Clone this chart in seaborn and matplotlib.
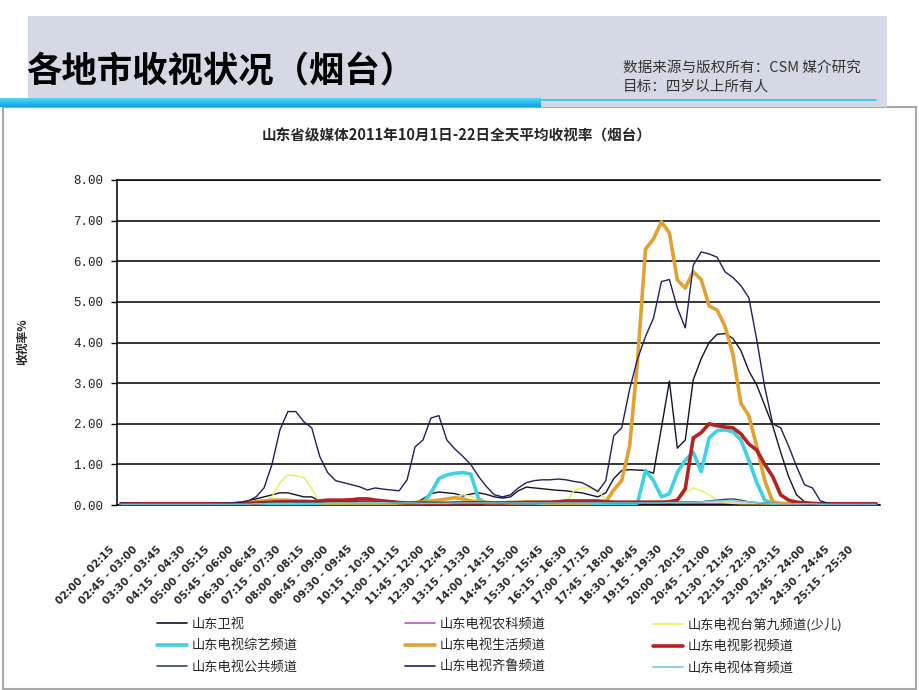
import numpy as np
import pandas as pd
import matplotlib
matplotlib.use("Agg")
import matplotlib.pyplot as plt
import matplotlib.transforms as mtransforms
from matplotlib.patches import Rectangle
from matplotlib.lines import Line2D
import seaborn as sns

# =========================
# Data (96 quarter-hour slots, 02:00 - 25:45)
# =========================
weishi = [0.04, 0.03, 0.03, 0.03, 0.03, 0.03, 0.03, 0.03,
          0.03, 0.03, 0.03, 0.03, 0.03, 0.04, 0.05, 0.07,
          0.10, 0.15, 0.20, 0.25, 0.30, 0.30, 0.25, 0.20,
          0.20, 0.10, 0.06, 0.06, 0.07, 0.07, 0.08, 0.08,
          0.08, 0.07, 0.06, 0.06, 0.05, 0.05, 0.15, 0.28,
          0.32, 0.30, 0.28, 0.22, 0.27, 0.30, 0.26, 0.20,
          0.17, 0.20, 0.35, 0.44, 0.42, 0.40, 0.38, 0.36,
          0.35, 0.32, 0.30, 0.25, 0.20, 0.30, 0.65, 0.85,
          0.87, 0.86, 0.85, 0.78, 1.90, 3.05, 1.40, 1.60,
          3.08, 3.60, 4.00, 4.20, 4.22, 4.10, 3.80, 3.30,
          2.95, 2.45, 1.95, 1.30, 0.70, 0.25, 0.08, 0.05,
          0.04, 0.03, 0.03, 0.03, 0.03, 0.03, 0.03, 0.03]

nongke = [0.02, 0.02, 0.02, 0.02, 0.02, 0.02, 0.02, 0.02,
          0.02, 0.02, 0.02, 0.02, 0.02, 0.02, 0.03, 0.03,
          0.04, 0.05, 0.06, 0.06, 0.07, 0.07, 0.08, 0.08,
          0.09, 0.10, 0.11, 0.12, 0.12, 0.12, 0.12, 0.11,
          0.10, 0.10, 0.09, 0.08, 0.06, 0.05, 0.04, 0.04,
          0.04, 0.04, 0.04, 0.04, 0.04, 0.04, 0.04, 0.04,
          0.04, 0.04, 0.04, 0.04, 0.04, 0.04, 0.04, 0.04,
          0.04, 0.04, 0.04, 0.04, 0.04, 0.04, 0.04, 0.04,
          0.04, 0.04, 0.04, 0.04, 0.04, 0.04, 0.04, 0.04,
          0.04, 0.04, 0.04, 0.04, 0.04, 0.04, 0.04, 0.04,
          0.04, 0.03, 0.03, 0.03, 0.03, 0.03, 0.03, 0.03,
          0.02, 0.02, 0.02, 0.02, 0.02, 0.02, 0.02, 0.02]

jiu = [0.02, 0.02, 0.02, 0.02, 0.02, 0.02, 0.02, 0.02,
       0.02, 0.02, 0.02, 0.02, 0.02, 0.02, 0.03, 0.03,
       0.03, 0.04, 0.05, 0.20, 0.55, 0.74, 0.72, 0.68,
       0.40, 0.05, 0.03, 0.03, 0.03, 0.03, 0.03, 0.03,
       0.03, 0.03, 0.03, 0.03, 0.03, 0.03, 0.04, 0.06,
       0.10, 0.15, 0.20, 0.25, 0.22, 0.15, 0.10, 0.06,
       0.05, 0.05, 0.05, 0.05, 0.05, 0.05, 0.05, 0.06,
       0.05, 0.35, 0.42, 0.42, 0.38, 0.10, 0.05, 0.05,
       0.05, 0.05, 0.05, 0.05, 0.05, 0.06, 0.10, 0.30,
       0.42, 0.35, 0.25, 0.12, 0.06, 0.04, 0.03, 0.03,
       0.03, 0.03, 0.03, 0.03, 0.03, 0.03, 0.03, 0.03,
       0.03, 0.03, 0.03, 0.03, 0.03, 0.03, 0.03, 0.03]

zongyi = [0.02, 0.02, 0.02, 0.02, 0.02, 0.02, 0.02, 0.02,
          0.02, 0.02, 0.02, 0.02, 0.02, 0.02, 0.02, 0.02,
          0.02, 0.02, 0.03, 0.03, 0.04, 0.04, 0.04, 0.03,
          0.03, 0.03, 0.03, 0.03, 0.03, 0.03, 0.03, 0.03,
          0.03, 0.03, 0.03, 0.03, 0.03, 0.03, 0.05, 0.30,
          0.65, 0.74, 0.78, 0.80, 0.76, 0.15, 0.04, 0.03,
          0.03, 0.03, 0.03, 0.03, 0.03, 0.03, 0.03, 0.03,
          0.03, 0.03, 0.03, 0.03, 0.03, 0.03, 0.03, 0.04,
          0.03, 0.05, 0.85, 0.60, 0.20, 0.28, 0.80, 1.10,
          1.30, 0.82, 1.65, 1.83, 1.85, 1.80, 1.60, 1.10,
          0.55, 0.12, 0.04, 0.03, 0.03, 0.03, 0.03, 0.03,
          0.03, 0.03, 0.03, 0.03, 0.03, 0.03, 0.03, 0.03]

shenghuo = [0.03, 0.03, 0.03, 0.02, 0.02, 0.02, 0.02, 0.02,
            0.02, 0.02, 0.02, 0.02, 0.02, 0.03, 0.03, 0.05,
            0.06, 0.08, 0.10, 0.12, 0.12, 0.12, 0.10, 0.10,
            0.08, 0.06, 0.05, 0.05, 0.05, 0.05, 0.05, 0.05,
            0.05, 0.05, 0.05, 0.05, 0.05, 0.06, 0.08, 0.10,
            0.12, 0.15, 0.18, 0.15, 0.10, 0.08, 0.06, 0.05,
            0.05, 0.05, 0.06, 0.08, 0.08, 0.06, 0.05, 0.05,
            0.05, 0.05, 0.05, 0.06, 0.07, 0.08, 0.37, 0.60,
            1.45, 3.57, 6.30, 6.55, 6.97, 6.70, 5.54, 5.34,
            5.74, 5.55, 4.90, 4.80, 4.40, 3.70, 2.50, 2.20,
            1.43, 0.60, 0.08, 0.04, 0.03, 0.03, 0.03, 0.03,
            0.03, 0.03, 0.03, 0.03, 0.03, 0.03, 0.03, 0.03]

yingshi = [0.03, 0.03, 0.03, 0.03, 0.03, 0.03, 0.03, 0.03,
           0.03, 0.03, 0.03, 0.03, 0.03, 0.03, 0.03, 0.03,
           0.04, 0.05, 0.06, 0.07, 0.08, 0.08, 0.08, 0.08,
           0.08, 0.10, 0.12, 0.12, 0.12, 0.13, 0.15, 0.15,
           0.12, 0.10, 0.08, 0.06, 0.05, 0.05, 0.05, 0.04,
           0.04, 0.04, 0.05, 0.05, 0.05, 0.05, 0.05, 0.05,
           0.05, 0.06, 0.06, 0.06, 0.06, 0.07, 0.07, 0.08,
           0.10, 0.10, 0.10, 0.10, 0.10, 0.08, 0.07, 0.07,
           0.07, 0.07, 0.07, 0.07, 0.07, 0.08, 0.12, 0.40,
           1.65, 1.78, 2.00, 1.95, 1.92, 1.90, 1.75, 1.50,
           1.35, 1.00, 0.70, 0.25, 0.12, 0.07, 0.05, 0.04,
           0.03, 0.03, 0.03, 0.03, 0.03, 0.03, 0.03, 0.03]

gonggong = [0.02, 0.02, 0.02, 0.02, 0.02, 0.02, 0.02, 0.02,
            0.02, 0.02, 0.02, 0.02, 0.02, 0.02, 0.02, 0.02,
            0.03, 0.04, 0.05, 0.06, 0.08, 0.08, 0.07, 0.06,
            0.06, 0.06, 0.07, 0.08, 0.08, 0.08, 0.08, 0.08,
            0.08, 0.08, 0.07, 0.07, 0.06, 0.06, 0.06, 0.06,
            0.06, 0.06, 0.06, 0.07, 0.07, 0.07, 0.06, 0.06,
            0.06, 0.06, 0.06, 0.06, 0.06, 0.06, 0.06, 0.06,
            0.06, 0.06, 0.06, 0.06, 0.06, 0.06, 0.06, 0.06,
            0.06, 0.06, 0.06, 0.06, 0.06, 0.06, 0.07, 0.08,
            0.08, 0.08, 0.10, 0.12, 0.14, 0.15, 0.12, 0.08,
            0.06, 0.05, 0.04, 0.03, 0.03, 0.03, 0.03, 0.03,
            0.02, 0.02, 0.02, 0.02, 0.02, 0.02, 0.02, 0.02]

qilu = [0.05, 0.04, 0.04, 0.03, 0.03, 0.03, 0.03, 0.03,
        0.03, 0.03, 0.03, 0.03, 0.04, 0.04, 0.05, 0.07,
        0.10, 0.20, 0.42, 1.00, 1.85, 2.30, 2.30, 2.05,
        1.90, 1.20, 0.80, 0.60, 0.55, 0.50, 0.45, 0.37,
        0.42, 0.39, 0.37, 0.35, 0.62, 1.43, 1.60, 2.14,
        2.20, 1.60, 1.38, 1.20, 1.00, 0.70, 0.45, 0.25,
        0.20, 0.25, 0.42, 0.55, 0.60, 0.62, 0.62, 0.64,
        0.62, 0.58, 0.55, 0.45, 0.33, 0.60, 1.70, 1.90,
        2.85, 3.60, 4.15, 4.60, 5.50, 5.55, 4.85, 4.36,
        5.90, 6.23, 6.18, 6.10, 5.74, 5.60, 5.40, 5.10,
        4.06, 2.90, 2.00, 1.90, 1.45, 0.95, 0.50, 0.42,
        0.10, 0.04, 0.03, 0.03, 0.03, 0.03, 0.03, 0.03]

tiyu = [0.02, 0.02, 0.02, 0.02, 0.02, 0.02, 0.02, 0.02,
        0.02, 0.02, 0.02, 0.02, 0.02, 0.02, 0.02, 0.02,
        0.02, 0.03, 0.03, 0.04, 0.04, 0.04, 0.04, 0.04,
        0.04, 0.04, 0.05, 0.05, 0.05, 0.05, 0.06, 0.06,
        0.06, 0.06, 0.05, 0.05, 0.05, 0.05, 0.04, 0.04,
        0.04, 0.04, 0.05, 0.05, 0.05, 0.05, 0.05, 0.05,
        0.05, 0.05, 0.05, 0.05, 0.05, 0.05, 0.05, 0.05,
        0.05, 0.05, 0.05, 0.05, 0.05, 0.05, 0.05, 0.05,
        0.05, 0.05, 0.05, 0.05, 0.05, 0.06, 0.06, 0.07,
        0.07, 0.08, 0.09, 0.10, 0.10, 0.10, 0.09, 0.08,
        0.06, 0.05, 0.04, 0.03, 0.03, 0.03, 0.03, 0.03,
        0.02, 0.02, 0.02, 0.02, 0.02, 0.02, 0.02, 0.02]

channels = ["山东卫视", "山东电视农科频道", "山东电视台第九频道(少儿)",
            "山东电视综艺频道", "山东电视生活频道", "山东电视影视频道",
            "山东电视公共频道", "山东电视齐鲁频道", "山东电视体育频道"]
series = [weishi, nongke, jiu, zongyi, shenghuo, yingshi, gonggong, qilu, tiyu]

tick_labels = ["02:00 - 02:15", "02:45 - 03:00", "03:30 - 03:45", "04:15 - 04:30",
               "05:00 - 05:15", "05:45 - 06:00", "06:30 - 06:45", "07:15 - 07:30",
               "08:00 - 08:15", "08:45 - 09:00", "09:30 - 09:45", "10:15 - 10:30",
               "11:00 - 11:15", "11:45 - 12:00", "12:30 - 12:45", "13:15 - 13:30",
               "14:00 - 14:15", "14:45 - 15:00", "15:30 - 15:45", "16:15 - 16:30",
               "17:00 - 17:15", "17:45 - 18:00", "18:30 - 18:45", "19:15 - 19:30",
               "20:00 - 20:15", "20:45 - 21:00", "21:30 - 21:45", "22:15 - 22:30",
               "23:00 - 23:15", "23:45 - 24:00", "24:30 - 24:45", "25:15 - 25:30"]

colors = {
    "山东卫视": "#141428",
    "山东电视农科频道": "#C050C8",
    "山东电视台第九频道(少儿)": "#F0EA60",
    "山东电视综艺频道": "#3FD2E2",
    "山东电视生活频道": "#E2A232",
    "山东电视影视频道": "#B52222",
    "山东电视公共频道": "#2C4C5C",
    "山东电视齐鲁频道": "#20205E",
    "山东电视体育频道": "#74C8DA",
}
widths = {
    "山东电视综艺频道": 2.6,
    "山东电视生活频道": 2.6,
    "山东电视影视频道": 2.6,
}

rows = []
for name, vals in zip(channels, series):
    for i, v in enumerate(vals):
        rows.append({"slot": i, "channel": name, "rating": v})
df = pd.DataFrame(rows)

# =========================
# Figure
# =========================
sns.set_theme(style="white")
plt.rcParams["font.family"] = ["Noto Sans CJK SC", "DejaVu Sans"]

W, H = 920, 690
fig = plt.figure(figsize=(9.2, 6.9), dpi=100)


def fx(px):
    return px / W


def fy(py):
    return 1 - py / H


# white chart box with grey border
fig.patches.append(Rectangle((fx(3), fy(689)), fx(913), fy(107) - fy(689),
                             transform=fig.transFigure, facecolor="white",
                             edgecolor="#A8A8A8", lw=1.5, zorder=-3))
# header band
fig.patches.append(Rectangle((fx(28), fy(107)), fx(859), fy(16) - fy(107),
                             transform=fig.transFigure, facecolor="#D5D9E5",
                             edgecolor="none", zorder=-2))
# cyan gradient bar
bar_ax = fig.add_axes([0, fy(107), fx(541), fy(98) - fy(107)], zorder=2)
grad = np.linspace(0, 1, 20).reshape(-1, 1)
bar_ax.imshow(grad, aspect="auto", cmap=matplotlib.colors.LinearSegmentedColormap.from_list(
    "bar", ["#5AD4F6", "#08A6DE"]), extent=[0, 1, 0, 1])
bar_ax.axis("off")
fig.lines.append(Line2D([fx(541), fx(876)], [fy(99.5), fy(99.5)],
                        transform=fig.transFigure, color="#2EC0EE", lw=1.2))

fig.text(fx(26), fy(72), "各地市收视状况（烟台）", fontsize=25.5, color="black",
         fontweight="bold", va="center", ha="left")
fig.text(fx(623), fy(68), "数据来源与版权所有：CSM 媒介研究", fontsize=10.5,
         color="#333333", va="center", ha="left")
fig.text(fx(623), fy(87), "目标：四岁以上所有人", fontsize=10.5,
         color="#333333", va="center", ha="left")

fig.text(fx(457), fy(135), "山东省级媒体2011年10月1日-22日全天平均收视率（烟台）",
         fontsize=10.5, fontweight="bold", ha="center", va="center")
fig.text(fx(23), fy(342), "收视率%", fontsize=8.5, fontweight="bold",
         rotation=90, ha="center", va="center")

# =========================
# Axes
# =========================
ax = fig.add_axes([fx(117), fy(505), fx(763), fy(180) - fy(505)], zorder=1)
ax.set_facecolor("white")

for name in channels:
    sub = df[df["channel"] == name]
    sns.lineplot(data=sub, x="slot", y="rating", ax=ax, color=colors[name],
                 lw=widths.get(name, 1.0), legend=False, zorder=3)

ax.set_xlim(-0.5, 95.5)
ax.set_ylim(0, 8)
ax.set_yticks(range(0, 9))
ax.set_yticklabels([f"{v:.2f}" for v in range(0, 9)], fontsize=9,
                   family="Liberation Mono", color="#222222")
ax.grid(axis="y", color="black", lw=1.1)
ax.grid(axis="x", visible=False)
ax.set_axisbelow(True)
ax.spines["right"].set_visible(False)
for s in ["left", "bottom", "top"]:
    ax.spines[s].set_color("black")
    ax.spines[s].set_linewidth(1.1)
ax.tick_params(axis="y", left=True, length=4, width=1.0, color="black", pad=6)
ax.tick_params(axis="x", bottom=False, pad=22)

ax.set_xticks(range(0, 96, 3))
ax.set_xticklabels(tick_labels, rotation=45, ha="right", rotation_mode="anchor",
                   fontsize=7.5, fontweight="bold", family="DejaVu Sans")
offset = mtransforms.ScaledTranslation(-12 / 100, 0, fig.dpi_scale_trans)
for lab in ax.get_xticklabels():
    lab.set_transform(lab.get_transform() + offset)
ax.set_xlabel("")
ax.set_ylabel("")

# =========================
# Legend (three columns)
# =========================
columns = [[0, 3, 6], [1, 4, 7], [2, 5, 8]]
col_x = [157, 405, 653]
for cx, idxs in zip(col_x, columns):
    handles = [Line2D([], [], color=colors[channels[k]],
                      lw=widths.get(channels[k], 1.2)) for k in idxs]
    labels = [channels[k] for k in idxs]
    fig.legend(handles, labels, loc="upper left",
               bbox_to_anchor=(fx(cx), fy(618)), frameon=False, fontsize=9.5,
               handlelength=2.3, handletextpad=0.35, labelspacing=0.62,
               borderaxespad=0, borderpad=0)

fig.savefig("out.png", dpi=100)
